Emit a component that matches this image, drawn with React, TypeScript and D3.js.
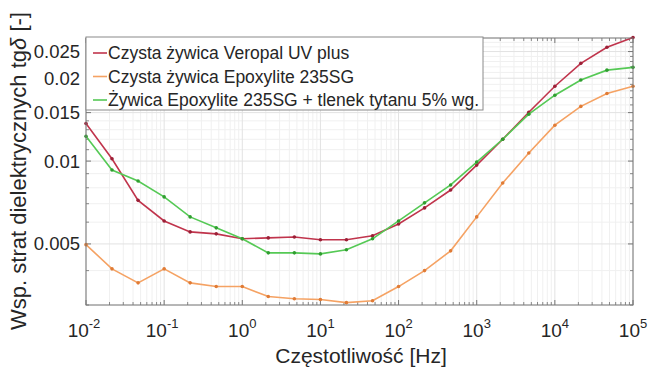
import React from "react";
import * as d3 from "d3";

const freqs = [0.01, 0.0215, 0.0464, 0.1, 0.215, 0.464, 1, 2.15, 4.64, 10, 21.5, 46.4, 100, 215, 464, 1000, 2150, 4640, 10000, 21500, 46400, 100000];
const veropal = [0.0137, 0.0102, 0.0072, 0.00606, 0.00553, 0.00544, 0.00522, 0.00526, 0.0053, 0.00518, 0.00518, 0.00535, 0.00591, 0.00676, 0.00785, 0.00967, 0.012, 0.01505, 0.0187, 0.02265, 0.0259, 0.0281];
const epoxylite = [0.00497, 0.00406, 0.00361, 0.00406, 0.00361, 0.0035, 0.0035, 0.00322, 0.00316, 0.00314, 0.00306, 0.00311, 0.0035, 0.004, 0.00472, 0.00627, 0.00832, 0.0107, 0.0135, 0.0158, 0.0176, 0.0187];
const epoxyliteTiO2 = [0.0123, 0.00928, 0.00846, 0.00741, 0.00627, 0.00572, 0.00522, 0.00464, 0.00464, 0.0046, 0.00476, 0.00522, 0.00606, 0.00705, 0.00819, 0.00992, 0.012, 0.0148, 0.01735, 0.0197, 0.0214, 0.0219];
const seriesNames = [
  "Czysta żywica Veropal UV plus",
  "Czysta żywica Epoxylite 235SG",
  "Żywica Epoxylite 235SG + tlenek tytanu 5% wg.",
];
const yTicks = [0.005, 0.01, 0.015, 0.02, 0.025];
const yTickLabels = ["0.005", "0.01", "0.015", "0.02", "0.025"];
const xTickExps = [-2, -1, 0, 1, 2, 3, 4, 5];

const W = 649, H = 369;
const L = 86, R = 633, T = 38, B = 305;
const FONT = "'Liberation Sans', Arial, sans-serif";

export default function App() {
  const x = d3.scaleLog().domain([1e-2, 1e5]).range([L, R]);
  const y = d3.scaleLog().domain([0.003, 0.028]).range([B, T]);

  const series = [
    { name: seriesNames[0], values: veropal, color: "#c0344c", mark: "#9c1f36" },
    { name: seriesNames[1], values: epoxylite, color: "#f5a263", mark: "#e07b35" },
    { name: seriesNames[2], values: epoxyliteTiO2, color: "#55c955", mark: "#2f9e2f" },
  ];

  const line = d3.line<[number, number]>().x(d => x(d[0])).y(d => y(d[1]));

  const xMinor: number[] = [];
  for (let e = -2; e < 5; e++) for (let m = 2; m <= 9; m++) xMinor.push(m * Math.pow(10, e));
  const yMinor: number[] = [];
  for (let k = 3; k <= 28; k++) {
    const v = k / 1000;
    if (!yTicks.some(t => Math.abs(t - v) < 1e-9)) yMinor.push(v);
  }
  const xMajor = xTickExps.map(e => Math.pow(10, e));

  return (
    <svg width={W} height={H} style={{ position: "absolute", left: 0, top: 0, background: "#fff" }} fontFamily={FONT}>
      <rect x={0} y={0} width={W} height={H} fill="#fff" />
      {/* minor grid */}
      {xMinor.map((v, i) => (
        <line key={"xm" + i} x1={x(v)} x2={x(v)} y1={T} y2={B} stroke="#f0f0f0" strokeWidth={1} />
      ))}
      {yMinor.map((v, i) => (
        <line key={"ym" + i} x1={L} x2={R} y1={y(v)} y2={y(v)} stroke="#f0f0f0" strokeWidth={1} />
      ))}
      {/* major grid */}
      {xMajor.map((v, i) => (
        <line key={"xg" + i} x1={x(v)} x2={x(v)} y1={T} y2={B} stroke="#e2e2e2" strokeWidth={1} />
      ))}
      {yTicks.map((v, i) => (
        <line key={"yg" + i} x1={L} x2={R} y1={y(v)} y2={y(v)} stroke="#e2e2e2" strokeWidth={1} />
      ))}
      {/* ticks */}
      {xMinor.map((v, i) => (
        <g key={"xmt" + i} stroke="#888" strokeWidth={1}>
          <line x1={x(v)} x2={x(v)} y1={B} y2={B - 3} />
          <line x1={x(v)} x2={x(v)} y1={T} y2={T + 3} />
        </g>
      ))}
      {xMajor.map((v, i) => (
        <g key={"xmj" + i} stroke="#777" strokeWidth={1}>
          <line x1={x(v)} x2={x(v)} y1={B} y2={B - 5} />
          <line x1={x(v)} x2={x(v)} y1={T} y2={T + 5} />
        </g>
      ))}
      {yMinor.map((v, i) => (
        <g key={"ymt" + i} stroke="#888" strokeWidth={1}>
          <line x1={L} x2={L + 3} y1={y(v)} y2={y(v)} />
          <line x1={R} x2={R - 3} y1={y(v)} y2={y(v)} />
        </g>
      ))}
      {yTicks.map((v, i) => (
        <g key={"ymj" + i} stroke="#777" strokeWidth={1}>
          <line x1={L} x2={L + 5} y1={y(v)} y2={y(v)} />
          <line x1={R} x2={R - 5} y1={y(v)} y2={y(v)} />
        </g>
      ))}
      {/* series */}
      {series.map((s, si) => {
        const pts: [number, number][] = freqs.map((f, i) => [f, s.values[i]]);
        return (
          <g key={"s" + si}>
            <path d={line(pts) || ""} fill="none" stroke={s.color} strokeWidth={1.6} />
            {pts.map((p, i) => (
              <circle key={i} cx={x(p[0])} cy={y(p[1])} r={1.8} fill={s.mark} />
            ))}
          </g>
        );
      })}
      {/* axes box */}
      <rect x={L} y={T} width={R - L} height={B - T} fill="none" stroke="#777" strokeWidth={1} />
      {/* legend */}
      <rect x={L} y={37} width={483 - L} height={110 - 37} fill="#fff" stroke="#8a8a8a" strokeWidth={1} />
      {series.map((s, i) => {
        const cy = 53 + i * 23.5;
        return (
          <g key={"lg" + i}>
            <line x1={93} x2={107} y1={cy} y2={cy} stroke={s.color} strokeWidth={1.6} />
            <text x={108} y={cy + 6} fontSize={17.5} fill="#262626">{s.name}</text>
          </g>
        );
      })}
      {/* y tick labels */}
      {yTicks.map((v, i) => (
        <text key={"yl" + i} x={80} y={y(v) + 6.5} textAnchor="end" fontSize={18.5} fill="#262626">
          {yTickLabels[i]}
        </text>
      ))}
      {/* x tick labels */}
      {xTickExps.map((e, i) => (
        <text key={"xl" + i} x={x(Math.pow(10, e)) + (e < 0 ? -2 : 0)} y={337} textAnchor="middle" fontSize={19} fill="#262626">
          10<tspan fontSize={13} dy={-9}>{e < 0 ? "-" + Math.abs(e) : String(e)}</tspan>
        </text>
      ))}
      {/* axis labels */}
      <text x={361} y={363} textAnchor="middle" fontSize={21} fill="#262626">Częstotliwość [Hz]</text>
      <text transform="translate(26,171) rotate(-90)" textAnchor="middle" fontSize={22} fill="#262626">
        Wsp. strat dielektrycznych tg<tspan fontStyle="italic">δ</tspan> [-]
      </text>
    </svg>
  );
}
